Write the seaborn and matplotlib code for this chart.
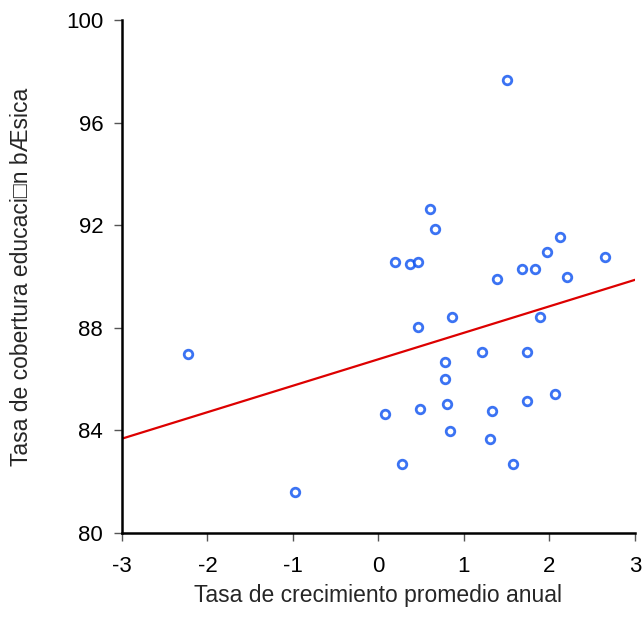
import matplotlib
matplotlib.use("Agg")
import matplotlib.pyplot as plt
import seaborn as sns
import pandas as pd

x_vals = [-2.226, -0.973, 0.078, 0.195, 0.280, 0.368, 0.461, 0.457, 0.485, 0.602,
          0.662, 0.779, 0.779, 0.807, 0.836, 0.864, 1.214, 1.303, 1.331, 1.392,
          1.508, 1.569, 1.682, 1.738, 1.738, 1.827, 1.887, 1.972, 2.060, 2.121,
          2.205, 2.645]
y_vals = [86.96, 81.60, 84.63, 90.56, 82.68, 90.47, 90.56, 88.03, 84.83, 92.61,
          91.83, 86.67, 86.00, 85.02, 83.95, 88.42, 87.06, 83.65, 84.73, 89.89,
          97.66, 82.68, 90.28, 87.06, 85.12, 90.28, 88.42, 90.95, 85.41, 91.53,
          89.99, 90.75]
x_ticks = [-3, -2, -1, 0, 1, 2, 3]
y_ticks = [80, 84, 88, 92, 96, 100]
x_label = "Tasa de crecimiento promedio anual"
y_label = "Tasa de cobertura educaci\u25a1n b\u00c6sica"

df = pd.DataFrame({"x": x_vals, "y": y_vals})

sns.set_style("ticks")
plt.rcParams["font.family"] = ["Liberation Sans", "DejaVu Sans"]

fig = plt.figure(figsize=(6.42, 6.35), dpi=100)
ax = fig.add_axes([0.19, 0.161, 0.799, 0.8075])
ax.set_xlim(-3, 3)
ax.set_ylim(80, 100)

sns.regplot(data=df, x="x", y="y", ax=ax, ci=None, truncate=False,
            scatter_kws=dict(s=38, facecolors="white", edgecolors="#0a50f0",
                             linewidths=2.0, zorder=3),
            line_kws=dict(color="#dd0000", lw=1.6, zorder=2))

ax.set_xlim(-3, 3)
ax.set_ylim(80, 100)
ax.set_xticks(x_ticks)
ax.set_yticks(y_ticks)
ax.set_xticklabels([str(v) for v in x_ticks])
ax.set_yticklabels([str(v) for v in y_ticks])
ax.tick_params(axis="both", labelsize=16, length=6, width=1.0, color="#555555",
               labelcolor="black", direction="out")
ax.tick_params(axis="y", pad=7.5)
ax.tick_params(axis="x", pad=11)
for s in ["left", "bottom"]:
    ax.spines[s].set_linewidth(1.8)
    ax.spines[s].set_color("black")
sns.despine(ax=ax)
ax.set_xlabel(x_label, fontsize=16.5)
ax.set_ylabel(y_label, fontsize=16.5)
ax.xaxis.set_label_coords(0.5, -0.099)
ax.yaxis.set_label_coords(-0.174, 0.5)

fig.savefig("out.png", dpi=100)
